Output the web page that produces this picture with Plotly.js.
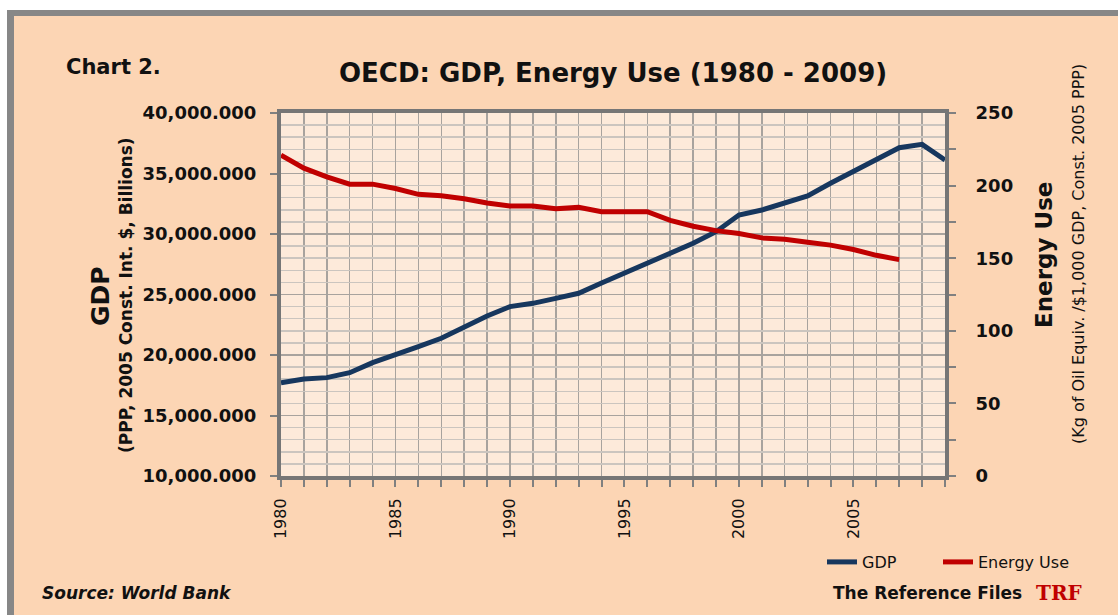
<!DOCTYPE html>
<html>
<head>
<meta charset="utf-8">
<script src="https://cdn.plot.ly/plotly-3.0.1.min.js"></script>
<style>
  body { margin: 0; background: #ffffff; }
  #chart {
    position: absolute; left: 7px; top: 10px;
    width: 1104px; height: 599px;
    border-left: 7px solid #878787; border-top: 6px solid #878787;
  }
</style>
</head>
<body>
<div id="chart"></div>
<script>
// OECD GDP (PPP, 2005 const. int. $, billions) and energy use per $1,000 GDP
const years = [1980, 1981, 1982, 1983, 1984, 1985, 1986, 1987, 1988, 1989,
               1990, 1991, 1992, 1993, 1994, 1995, 1996, 1997, 1998, 1999,
               2000, 2001, 2002, 2003, 2004, 2005, 2006, 2007, 2008, 2009];
const gdp = [17710, 18020, 18130, 18540, 19370, 20000, 20690, 21380, 22340, 23220,
             24000, 24270, 24680, 25100, 25950, 26750, 27580, 28400, 29230, 30190,
             31570, 31980, 32590, 33140, 34190, 35150, 36170, 37130, 37410, 36120];
const energyYears = years.slice(0, 28);
const energyUse = [221, 212, 206, 201, 201, 198, 194, 193, 191, 188,
                   186, 186, 184, 185, 182, 182, 182, 176, 172, 169,
                   167, 164, 163, 161, 159, 156, 152, 149];

const W = 1104, H = 599;
const M = { l: 267, r: 173, t: 97, b: 139, autoexpand: false };
const PW = W - M.l - M.r, PH = H - M.t - M.b;
// page pixel -> paper coords (div starts at 14,16 on the page)
const px = x => (x - 14 - M.l) / PW;
const py = y => 1 - (y - 16 - M.t) / PH;

const FONT = "DejaVu Sans";
const INK = "#111111";

const traces = [
  {
    x: years, y: gdp, name: "GDP", type: "scatter", mode: "lines",
    legend: "legend", line: { color: "#17375E", width: 5 }
  },
  {
    x: energyYears, y: energyUse, name: "Energy Use", type: "scatter", mode: "lines",
    yaxis: "y2", legend: "legend2", line: { color: "#C00000", width: 5 }
  }
];

function ann(text, x, y, size, opts) {
  return Object.assign({
    text: text, xref: "paper", yref: "paper", x: px(x), y: py(y),
    xanchor: "center", yanchor: "middle", showarrow: false,
    font: { family: FONT, size: size, color: INK, weight: "bold" }
  }, opts || {});
}

function legendAt(x) {
  return {
    orientation: "h", x: px(x), y: py(562), xanchor: "left", yanchor: "middle",
    bgcolor: "rgba(0,0,0,0)", font: { family: FONT, size: 16, color: INK }
  };
}

const layout = {
  width: W, height: H,
  margin: M,
  paper_bgcolor: "#FCD5B4",
  plot_bgcolor: "#FDEADA",
  showlegend: true,
  legend: legendAt(822),
  legend2: legendAt(938),
  xaxis: {
    range: [1980, 2009], tickmode: "linear", tick0: 1980, dtick: 5,
    tickangle: -90, ticks: "outside", ticklen: 7, tickwidth: 2, tickcolor: "#808080",
    tickfont: { family: FONT, size: 16, color: INK },
    showgrid: true, gridcolor: "#A8A39E", gridwidth: 1.5,
    showline: true, linecolor: "#767676", linewidth: 4, mirror: true,
    zeroline: false, ticklabelstandoff: 5,
    minor: { tick0: 1980, dtick: 1, ticks: "outside", ticklen: 7, tickwidth: 2,
             tickcolor: "#808080", showgrid: true, gridcolor: "#A8A39E", gridwidth: 1.5 }
  },
  yaxis: {
    range: [10000, 40000], tickmode: "linear", tick0: 10000, dtick: 5000,
    tickformat: ",.3f", ticks: "outside", ticklen: 7, tickwidth: 2, tickcolor: "#808080",
    tickfont: { family: FONT, size: 18, color: INK, weight: "bold" },
    showgrid: true, gridcolor: "#A8A39E", gridwidth: 1.5,
    showline: true, linecolor: "#767676", linewidth: 4, mirror: true,
    zeroline: false, ticklabelstandoff: 10,
    minor: { dtick: 1000, showgrid: true, gridcolor: "#CBC5BF", gridwidth: 1.5 }
  },
  yaxis2: {
    overlaying: "y", side: "right", range: [0, 250], tickmode: "linear", dtick: 50,
    ticks: "outside", ticklen: 7, tickwidth: 2, tickcolor: "#808080",
    tickfont: { family: FONT, size: 18, color: INK, weight: "bold" },
    showgrid: false, zeroline: false,
    showline: true, linecolor: "#767676", linewidth: 4, ticklabelstandoff: 16,
    minor: { dtick: 25, ticks: "outside", ticklen: 7, tickwidth: 2, tickcolor: "#808080" }
  },
  annotations: [
    ann("Chart 2.", 64, 67, 21, { xanchor: "left" }),
    ann("OECD: GDP, Energy Use (1980 - 2009)", 613, 73, 26),
    ann("GDP", 100, 296, 25, { textangle: -90 }),
    ann("(PPP, 2005 Const. Int. $, Billions)", 126, 295, 17, { textangle: -90 }),
    ann("Energy Use", 1044, 255, 23, { textangle: -90 }),
    ann("(Kg of Oil Equiv. /$1,000 GDP, Const. 2005 PPP)", 1078, 254, 16,
        { textangle: -90, font: { family: FONT, size: 16, color: INK } }),
    ann("Source: World Bank", 40, 593, 17,
        { xanchor: "left", font: { family: FONT, size: 17, color: INK, weight: "bold", style: "italic" } }),
    ann("The Reference Files", 831, 593, 17, { xanchor: "left" }),
    ann("TRF", 1034, 593, 20,
        { xanchor: "left", font: { family: "DejaVu Serif", size: 20, color: "#C00000", weight: "bold" } })
  ]
};

Plotly.newPlot("chart", traces, layout, { displayModeBar: false, staticPlot: true });
</script>
</body>
</html>
